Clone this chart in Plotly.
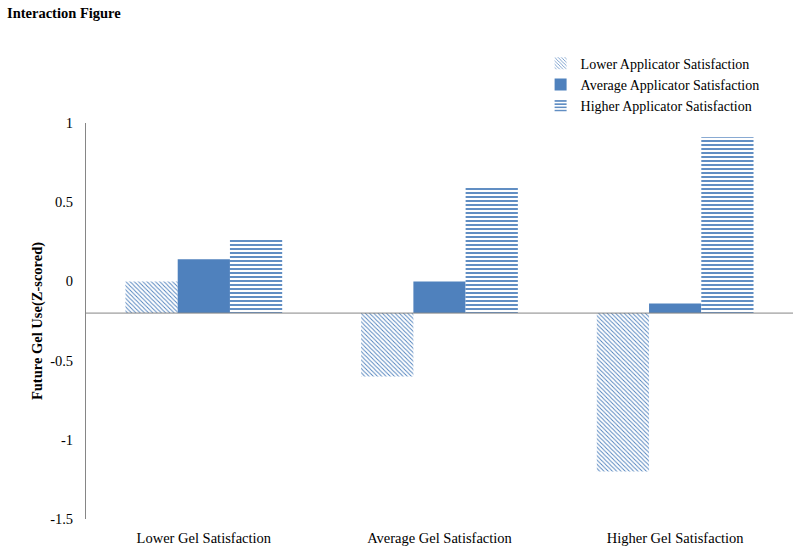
import plotly.graph_objects as go

# ---- data ----
categories = ["Lower Gel Satisfaction", "Average Gel Satisfaction", "Higher Gel Satisfaction"]
series_names = ["Lower Applicator Satisfaction", "Average Applicator Satisfaction", "Higher Applicator Satisfaction"]
lower_app = [0.0, -0.60, -1.20]
average_app = [0.14, 0.0, -0.14]
higher_app = [0.27, 0.59, 0.91]
axis_cross = -0.2  # value where the horizontal axis crosses
y_tickvals = [1, 0.5, 0, -0.5, -1, -1.5]
y_ticktext = ["1", "0.5", "0", "-0.5", "-1", "-1.5"]

BLUE = "#4F81BD"
FONT = "Liberation Serif"
FS = 14.5

fig = go.Figure()

def add_series(name, vals, shape, solidity=None, size=None):
    pattern = dict(shape=shape)
    if shape:
        pattern.update(fgcolor=BLUE, bgcolor="white", solidity=solidity, size=size, fillmode="replace")
    fig.add_trace(go.Bar(
        name=name,
        x=categories,
        y=[v - axis_cross for v in vals],
        base=axis_cross,
        marker=dict(color=BLUE, line=dict(width=0), pattern=pattern),
    ))

add_series(series_names[0], lower_app, "\\", solidity=0.3, size=3)
add_series(series_names[1], average_app, "")
add_series(series_names[2], higher_app, "-", solidity=0.45, size=4)

# horizontal axis line at crossing value
fig.add_shape(type="line", xref="paper", yref="y", x0=0, x1=1, y0=axis_cross, y1=axis_cross,
              line=dict(color="#868686", width=1), layer="above")

fig.update_layout(
    width=800, height=552,
    margin=dict(l=86, r=7, t=123, b=33, autoexpand=False),
    paper_bgcolor="white", plot_bgcolor="white",
    font=dict(family=FONT, size=FS, color="black"),
    barmode="group",
    bargap=0.335, bargroupgap=0,
    title=dict(text="<b>Interaction Figure</b>", font=dict(family=FONT, size=FS, color="black"),
               xref="container", yref="container", x=0, xanchor="left", pad=dict(l=7, t=0, b=0, r=0),
               y=1 - 13/552, yanchor="middle"),
    legend=dict(x=0.643, y=1.19, xanchor="left", yanchor="top",
                font=dict(family=FONT, size=14), bgcolor="rgba(0,0,0,0)",
                tracegroupgap=0),
    showlegend=True,
)

fig.update_yaxes(range=[-1.5, 1], tickvals=y_tickvals, ticktext=y_ticktext, automargin=False,
                 showgrid=False, zeroline=False, showline=True, linecolor="#868686", linewidth=1,
                 ticks="", ticklabelstandoff=9,
                 title=dict(text="<b>Future Gel Use(Z-scored)</b>", font=dict(family=FONT, size=FS), standoff=4))
fig.update_xaxes(showgrid=False, zeroline=False, showline=False, ticks="", ticklabelstandoff=8,
                 automargin=False)

fig.write_html("out.html", config={"displayModeBar": False},
               post_script="document.body.style.margin='0';")
